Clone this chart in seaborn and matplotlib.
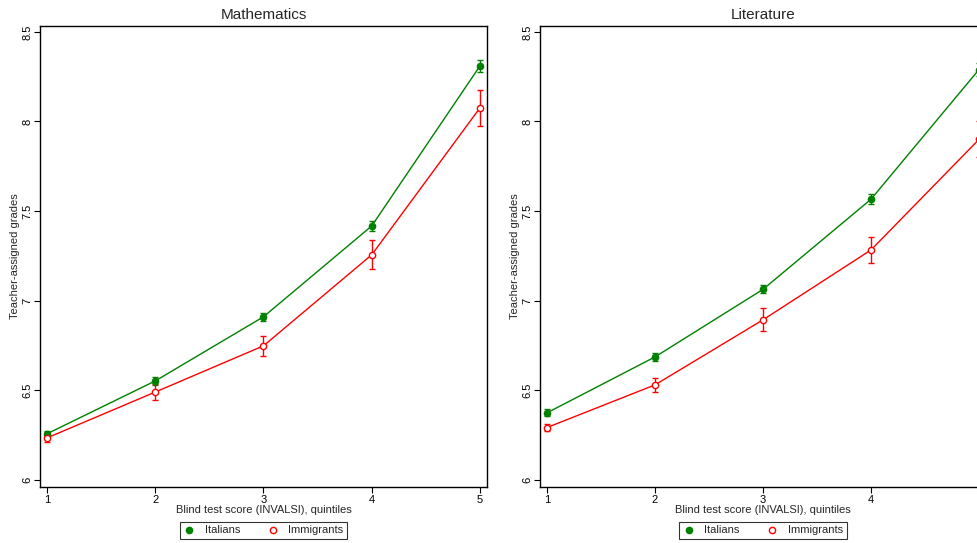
import matplotlib
matplotlib.use("Agg")
import matplotlib.pyplot as plt
import seaborn as sns
import pandas as pd
from matplotlib.lines import Line2D

# quintiles of blind test score
quintiles = [1, 2, 3, 4, 5]

# Mathematics
math_ita = [6.257, 6.552, 6.910, 7.417, 8.310]
math_ita_err = [0.015, 0.022, 0.022, 0.028, 0.035]
math_imm = [6.234, 6.490, 6.748, 7.256, 8.076]
math_imm_err = [0.025, 0.045, 0.055, 0.080, 0.100]

# Literature
lit_ita = [6.374, 6.686, 7.063, 7.566, 8.290]
lit_ita_err = [0.020, 0.022, 0.022, 0.027, 0.035]
lit_imm = [6.292, 6.530, 6.893, 7.283, 7.900]
lit_imm_err = [0.022, 0.040, 0.065, 0.073, 0.100]

green = "#008000"
red = "#ff0000"

sns.set_style("white")
plt.rcParams["font.family"] = ["Liberation Sans", "DejaVu Sans"]

fig = plt.figure(figsize=(9.77, 5.43), dpi=100)
W, H = 977, 543
ax1 = fig.add_axes([40 / W, 56 / H, 447 / W, 461 / H])
ax2 = fig.add_axes([540 / W, 56 / H, 446 / W, 461 / H])


def draw_panel(ax, title, ita, ita_err, imm, imm_err, show_last=True):
    df = pd.DataFrame({
        "q": quintiles * 2,
        "grade": ita + imm,
        "group": ["Italians"] * 5 + ["Immigrants"] * 5,
    })
    sns.lineplot(data=df, x="q", y="grade", hue="group",
                 palette={"Italians": green, "Immigrants": red},
                 linewidth=1.0, legend=False, ax=ax, zorder=2)
    ax.errorbar(quintiles, ita, yerr=ita_err, fmt="o", color=green, ms=4.5,
                capsize=2.5, elinewidth=1, capthick=1, zorder=3)
    ax.errorbar(quintiles, imm, yerr=imm_err, fmt="o", color=red, ms=4.5,
                mfc="white", mec=red, mew=1, capsize=2.5, elinewidth=1,
                capthick=1, zorder=3)

    ax.set_xlim(0.935, 5.065)
    ax.set_ylim(5.96, 8.533)
    ax.set_xticks(quintiles)
    xlabels = [str(q) for q in quintiles]
    if not show_last:
        xlabels[-1] = ""
    ax.set_xticklabels(xlabels)
    ax.set_yticks([6, 6.5, 7, 7.5, 8, 8.5])
    ax.set_yticklabels(["6", "6.5", "7", "7.5", "8", "8.5"], rotation=90, va="center")
    ax.tick_params(axis="both", direction="out", length=4, width=0.8,
                   labelsize=8, color="black", labelcolor="black",
                   left=True, bottom=True, pad=1.5)
    ax.set_title(title, fontsize=11, pad=5)
    ax.set_xlabel("Blind test score (INVALSI), quintiles", fontsize=8, labelpad=0)
    ax.set_ylabel("Teacher-assigned grades", fontsize=8, labelpad=2)
    for s in ax.spines.values():
        s.set_color("black")
        s.set_linewidth(1.0)

    handles = [
        Line2D([], [], marker="o", ls="none", color=green, ms=4.5),
        Line2D([], [], marker="o", ls="none", color=red, mfc="white", ms=4.5),
    ]
    leg = ax.legend(handles, ["Italians", "Immigrants"], loc="upper center",
                    bbox_to_anchor=(0.5, -0.063), ncol=2, fontsize=8,
                    frameon=True, fancybox=False, edgecolor="black",
                    handlelength=1.0, handletextpad=0.9, columnspacing=2.4,
                    borderpad=0.35)
    leg.get_frame().set_linewidth(0.8)


draw_panel(ax1, "Mathematics", math_ita, math_ita_err, math_imm, math_imm_err)
draw_panel(ax2, "Literature", lit_ita, lit_ita_err, lit_imm, lit_imm_err, show_last=False)

fig.savefig("out.png", dpi=100)
